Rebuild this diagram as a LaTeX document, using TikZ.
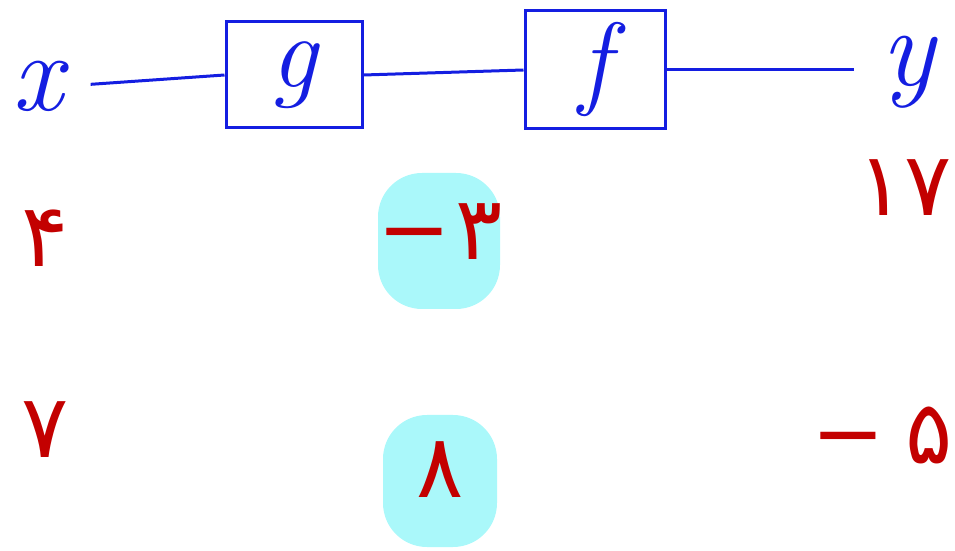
\documentclass[tikz,border=0pt]{standalone}
\usepackage{fontspec}
\usepackage{tikz}
\usetikzlibrary{positioning}
\newfontfamily\fadigits[Script=Arabic]{DejaVu Sans}
\definecolor{penblue}{RGB}{20,30,225}
\definecolor{penred}{RGB}{195,0,0}
\definecolor{marker}{RGB}{170,248,250}

\begin{document}
\begin{tikzpicture}[x=0.5pt, y=-0.5pt, line width=1.5pt,
  var/.style={text=penblue, font=\itshape\fontsize{56}{60}\selectfont, inner sep=1pt},
  func/.style={draw=penblue, text=penblue, font=\itshape\fontsize{52}{56}\selectfont},
  val/.style={text=penred, font=\fadigits\fontsize{44}{48}\selectfont, inner sep=0pt},
  blob/.style={fill=marker, rounded corners=22pt, inner sep=0pt}]
\useasboundingbox (0,0) rectangle (955,551);
\node[var] (xin) at (38,86) {x};
\node[var] (yout) at (908,72) {y};
\node[func, minimum width=68pt, minimum height=53pt] (g) at (294,75) {g};
\node[func, minimum width=70pt, minimum height=59pt] (f) at (595,70) {f};
\draw[penblue, shorten <=12pt] (xin.east) -- (g.west);
\draw[penblue] (g.east) -- (f.west);
\draw[penblue, shorten >=12pt] (f.east) -- (f.east -| yout.west);
% values
\node[blob, minimum width=61pt, minimum height=68pt] (b1) at (439,241) {};
\node[blob, minimum width=57pt, minimum height=66pt] (b2) at (440,481) {};
\node[val] (x1) at (45,238) {۴};
\node[val] (g1) at (440,232) {−\kern2pt ۳};
\node[val] (y1) at (905,188) {۱۷};
\node[val] (x2) at (45,430) {۷};
\node[val] (g2) at (440,470) {۸};
\node[val] (y2) at (882,435) {−\kern10pt ۵};
\end{tikzpicture}
\end{document}
